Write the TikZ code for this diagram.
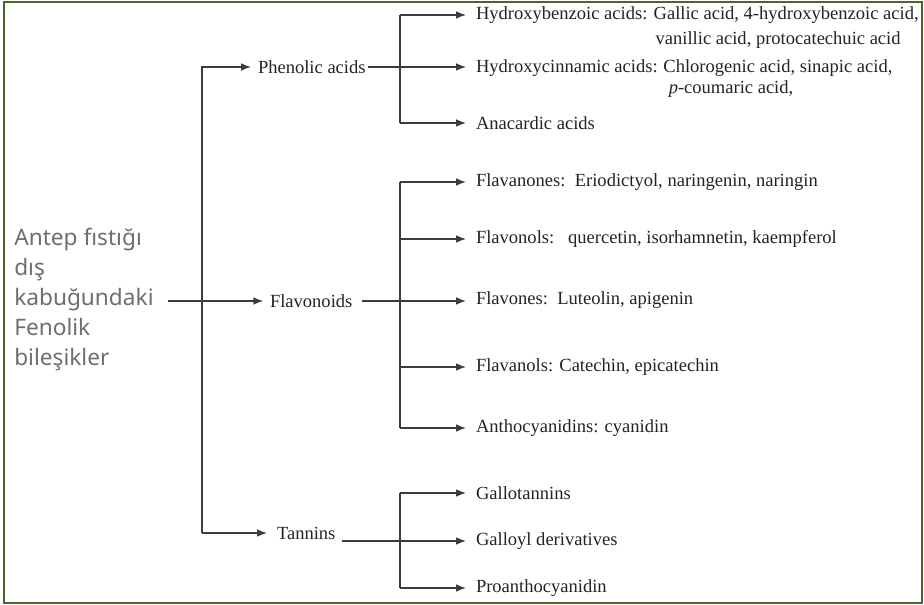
\documentclass[tikz,border=0pt]{standalone}
\usepackage{fontspec}
\setmainfont{Liberation Serif}
\newfontfamily\rootfont{Noto Sans}
\usetikzlibrary{arrows.meta}
\definecolor{frame}{RGB}{74,102,44}
\definecolor{ink}{RGB}{35,35,35}
\definecolor{rootgray}{RGB}{110,110,110}
\definecolor{wirec}{RGB}{60,60,60}
\begin{document}
\begin{tikzpicture}[x=0.75pt,y=-0.75pt,
  wire/.style={draw=wirec,line width=1pt},
  arrow/.style={wire,-{Latex[length=7.5pt,width=5.8pt]}},
  serif/.style={font=\fontsize{13.9}{18.75}\selectfont,text=ink},
  cat/.style={serif,anchor=west,inner sep=0pt,outer sep=0pt},
  leaf/.style={serif,anchor=west,inner xsep=0pt,inner ysep=0pt,outer xsep=7.5pt,outer ysep=0pt},
  more/.style={serif,anchor=base west,inner sep=0pt,outer sep=0pt}]
\useasboundingbox (0,0) rectangle (924,605);
% outer frame
\draw[frame,line width=1.75pt] (4.3,1.8) rectangle (922,603);

% root label
\node[anchor=west,align=left,inner sep=0pt,text=rootgray,
      font=\rootfont\fontsize{17}{22.5}\selectfont] (root) at (14,300)
  {Antep fıstığı\\dış\\kabuğundaki\\Fenolik\\bileşikler};
\coordinate (rootout) at (168,301);
\coordinate (trunk) at (202,300);
\coordinate (split) at (400,300);

% main categories
\node[cat] (phen) at (258,67) {Phenolic acids};
\node[cat] (flav) at (270,301) {Flavonoids};
\node[cat] (tan) at (277,533) {Tannins};

% phenolic acids
\node[leaf] (hb) at (466,15) {Hydroxybenzoic acids:};
\node[more,xshift=-2.8pt] (hbl) at (hb.base east)
  {\begin{tabular}[t]{@{}l@{}}Gallic acid, 4-hydroxybenzoic acid,\\[0.2pt]\hspace{1.5pt}vanillic acid, protocatechuic acid\end{tabular}};
\node[leaf] (hc) at (466,68) {Hydroxycinnamic acids:};
\node[more,xshift=-3.2pt] (hcl) at (hc.base east)
  {\renewcommand{\arraystretch}{0.84}\begin{tabular}[t]{@{}l@{}}Chlorogenic acid, sinapic acid,\\\hspace{4pt}\textit{p}-coumaric acid,\end{tabular}};
\node[leaf] (an) at (466,123) {Anacardic acids};

% flavonoids
\node[leaf] (f1) at (466,182) {Flavanones:\ \ Eriodictyol, naringenin, naringin};
\node[leaf] (f2) at (466,239) {Flavonols:\ \ \ quercetin, isorhamnetin, kaempferol};
\node[leaf] (f3) at (466,300) {Flavones:\ \ Luteolin, apigenin};
\node[leaf] (f4) at (466,367) {Flavanols: Catechin, epicatechin};
\node[leaf] (f5) at (466,428) {Anthocyanidins: cyanidin};

% tannins
\node[leaf] (t1) at (466,493) {Gallotannins};
\node[leaf] (t2) at (466,541) {Galloyl derivatives};
\node[leaf] (t3) at (466,588) {Proanthocyanidin};

% trunk from the root to the three categories
\draw[arrow,shorten >=5pt] (rootout) -- (flav.west |- rootout);
\draw[arrow,shorten >=5.2pt] (trunk |- tan.west) -- (trunk |- phen.west) -- (phen.west);
\draw[arrow,shorten >=7.5pt] (trunk |- tan.west) -- (tan.west);

% phenolic acid branches
\draw[arrow,shorten <=1.5pt] (phen.east) -- (hc.west |- phen.east);
\draw[wire] (split |- hb.west) -- (split |- an.west);
\draw[arrow] (split |- hb.west) -- (hb.west);
\draw[arrow] (split |- an.west) -- (an.west);

% flavonoid branches
\draw[arrow,shorten <=7.5pt] (flav.east) -- (f3.west |- flav.east);
\draw[wire] (split |- f1.west) -- (split |- f5.west);
\foreach \n in {f1,f2,f4,f5}
  \draw[arrow] (split |- \n.west) -- (\n.west);

% tannin branches
\draw[arrow,shorten <=5pt] (tan.east |- t2.west) -- (t2.west);
\draw[wire] (split |- t1.west) -- (split |- t3.west);
\draw[arrow] (split |- t1.west) -- (t1.west);
\draw[arrow] (split |- t3.west) -- (t3.west);
\end{tikzpicture}
\end{document}
